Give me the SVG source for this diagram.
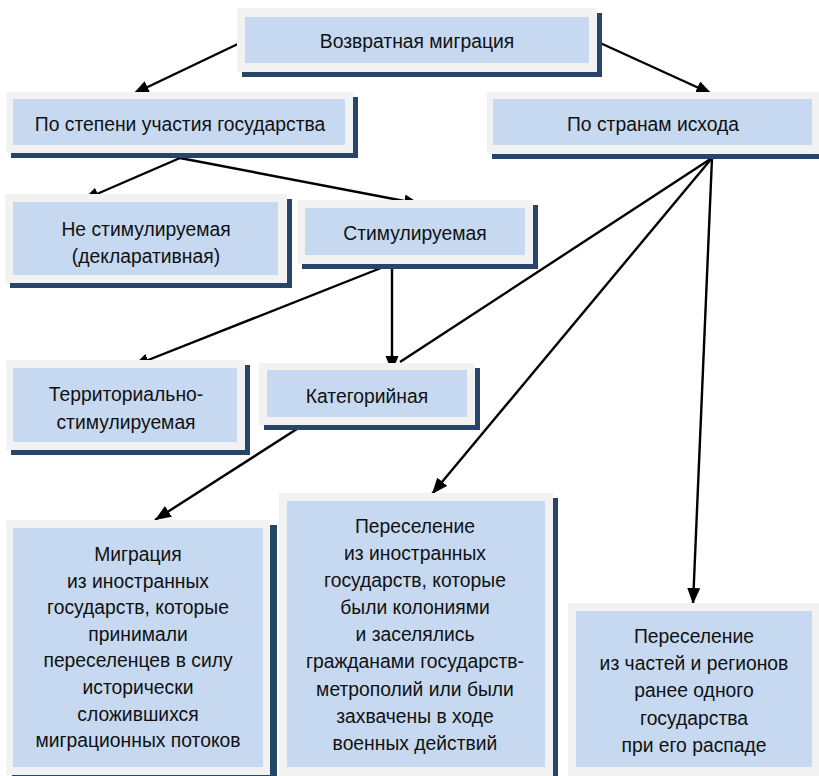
<svg xmlns="http://www.w3.org/2000/svg" width="819" height="776" viewBox="0 0 819 776">
<defs>
<style>
.sh{fill:#27446a}
.fr{fill:#f2f2f2}
.in{fill:#c6d9f1}
.t{font-family:"Liberation Sans",Arial,sans-serif;font-size:21px;fill:#111;text-anchor:middle;transform-box:fill-box;transform-origin:center;transform:scaleX(0.92)}
.c{stroke:#000;stroke-width:2.4;fill:none}
.a{marker-end:url(#ah)}
</style>
<marker id="ah" markerUnits="userSpaceOnUse" markerWidth="18" markerHeight="14" refX="16" refY="6.5" orient="auto">
<path d="M0,0 L16,6.5 L0,13 z" fill="#000"/>
</marker>
</defs>
<rect width="819" height="776" fill="#fff"/>

<g id="connectors">
<line class="c a" x1="242" y1="42" x2="133" y2="94"/>
<line class="c a" x1="598" y1="42" x2="712" y2="94"/>
<line class="c a" x1="180" y1="158" x2="83" y2="200"/>
<line class="c a" x1="180" y1="158" x2="420" y2="204"/>
<line class="c a" x1="392" y1="265" x2="392" y2="372"/>
<line class="c a" x1="386" y1="266" x2="133" y2="366"/>
<line class="c" x1="712" y1="158" x2="400" y2="362"/>
<line class="c a" x1="712" y1="158" x2="432" y2="494"/>
<line class="c a" x1="712" y1="158" x2="693" y2="604"/>
<line class="c a" x1="300" y1="427" x2="155" y2="520"/>
</g>

<g id="n1">
<rect class="sh" x="242" y="13" width="360" height="64"/>
<rect class="fr" x="237" y="8" width="360" height="64"/>
<rect class="in" x="245" y="17" width="344" height="46"/>
<text class="t" x="417" y="48">Возвратная миграция</text>
</g>

<g id="n2">
<rect class="sh" x="11" y="97" width="347" height="61"/>
<rect class="fr" x="6" y="92" width="347" height="61"/>
<rect class="in" x="13" y="99" width="332" height="46"/>
<text class="t" x="180" y="131">По степени участия государства</text>
</g>

<g id="n3">
<rect class="sh" x="492" y="97" width="336" height="62"/>
<rect class="fr" x="487" y="92" width="336" height="62"/>
<rect class="in" x="493" y="99" width="319" height="46"/>
<text class="t" x="653" y="131">По странам исхода</text>
</g>

<g id="n4">
<rect class="sh" x="10" y="199" width="282" height="89"/>
<rect class="fr" x="5" y="194" width="282" height="89"/>
<rect class="in" x="13" y="202" width="265" height="73"/>
<text class="t" x="146" y="236">Не стимулируемая</text>
<text class="t" x="146" y="263">(декларативная)</text>
</g>

<g id="n5">
<rect class="sh" x="302" y="205" width="236" height="64"/>
<rect class="fr" x="297" y="200" width="236" height="64"/>
<rect class="in" x="305" y="208" width="220" height="47"/>
<text class="t" x="415" y="240">Стимулируемая</text>
</g>

<g id="n6">
<rect class="sh" x="11" y="365" width="239" height="90"/>
<rect class="fr" x="6" y="360" width="239" height="90"/>
<rect class="in" x="13" y="368" width="224" height="74"/>
<text class="t" x="126" y="401">Территориально-</text>
<text class="t" x="126" y="429">стимулируемая</text>
</g>

<g id="n7">
<rect class="sh" x="264" y="368" width="216" height="62"/>
<rect class="fr" x="259" y="363" width="216" height="62"/>
<rect class="in" x="267" y="370" width="200" height="47"/>
<text class="t" x="367" y="403">Категорийная</text>
</g>

<g id="n8">
<rect class="sh" x="12" y="525" width="265" height="256"/>
<rect class="fr" x="6" y="520" width="264" height="255"/>
<rect class="in" x="13" y="528" width="250" height="239"/>
<text class="t" x="138" y="561">Миграция</text>
<text class="t" x="138" y="587.6">из иностранных</text>
<text class="t" x="138" y="614.2">государств, которые</text>
<text class="t" x="138" y="640.8">принимали</text>
<text class="t" x="138" y="667.4">переселенцев в силу</text>
<text class="t" x="138" y="694">исторически</text>
<text class="t" x="138" y="720.6">сложившихся</text>
<text class="t" x="138" y="747.2">миграционных потоков</text>
</g>

<g id="n9">
<rect class="sh" x="284" y="498" width="274" height="284"/>
<rect class="fr" x="279" y="493" width="274" height="284"/>
<rect class="in" x="287" y="501" width="258" height="266"/>
<text class="t" x="415" y="533">Переселение</text>
<text class="t" x="415" y="560.1">из иностранных</text>
<text class="t" x="415" y="587.2">государств, которые</text>
<text class="t" x="415" y="614.3">были колониями</text>
<text class="t" x="415" y="641.4">и заселялись</text>
<text class="t" x="415" y="668.5">гражданами государств-</text>
<text class="t" x="415" y="695.6">метрополий или были</text>
<text class="t" x="415" y="722.7">захвачены в ходе</text>
<text class="t" x="415" y="749.8">военных действий</text>
</g>

<g id="n10">
<rect class="sh" x="573" y="608" width="255" height="174"/>
<rect class="fr" x="568" y="603" width="255" height="174"/>
<rect class="in" x="576" y="611" width="236" height="156"/>
<text class="t" x="694" y="643">Переселение</text>
<text class="t" x="694" y="670.2">из частей и регионов</text>
<text class="t" x="694" y="697.4">ранее одного</text>
<text class="t" x="694" y="724.6">государства</text>
<text class="t" x="694" y="751.8">при его распаде</text>
</g>
</svg>
